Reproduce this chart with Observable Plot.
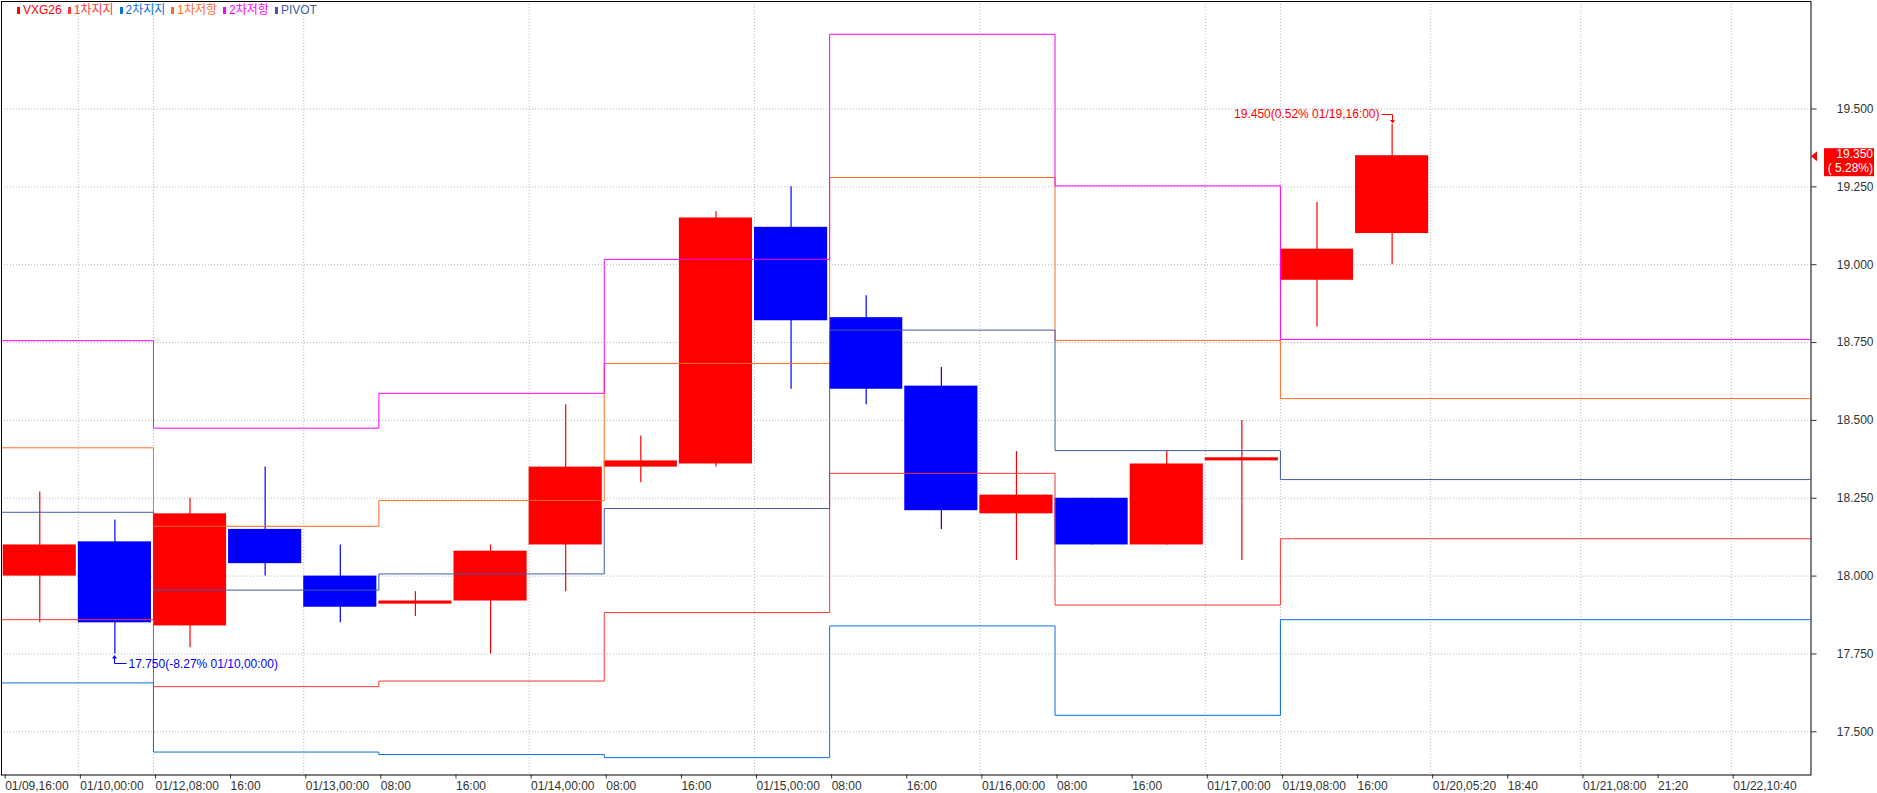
<!DOCTYPE html>
<html>
<head>
<meta charset="utf-8">
<script src="https://cdn.jsdelivr.net/npm/d3@7"></script>
<script src="https://cdn.jsdelivr.net/npm/@observablehq/plot@0.6"></script>
<style>
  html, body { margin: 0; padding: 0; background: #fff; }
  #wrap { position: relative; width: 1877px; height: 793px; overflow: hidden; }
  #legend { position: absolute; left: 17px; top: 3px; display: flex; gap: 6px; white-space: nowrap;
            font: 12px "Liberation Sans", "Noto Sans CJK KR", sans-serif; line-height: 14px; }
  #legend .item { display: flex; align-items: center; }
  #legend .mk { display: inline-block; width: 3px; height: 7px; margin-right: 3px; }
</style>
</head>
<body>
<div id="wrap"><div id="legend"></div></div>
<script>
// ---- data ----
const slotLabels = ["01/09,16:00","01/10,00:00","01/12,08:00","16:00","01/13,00:00","08:00","16:00",
  "01/14,00:00","08:00","16:00","01/15,00:00","08:00","16:00","01/16,00:00","08:00","16:00",
  "01/17,00:00","01/19,08:00","16:00","01/20,05:20","18:40","01/21,08:00","21:20","01/22,10:40"];

const open  = [18.00,18.11,17.84,18.15,18.00,17.91,17.92,18.10,18.35,18.36,19.12,18.83,18.61,18.20,18.25,18.10,18.37,18.95,19.10];
const high  = [18.27,18.18,18.25,18.35,18.10,17.95,18.10,18.55,18.45,19.17,19.25,18.90,18.67,18.40,18.25,18.40,18.50,19.20,19.45];
const low   = [17.85,17.75,17.77,18.00,17.85,17.87,17.75,17.95,18.30,18.35,18.60,18.55,18.15,18.05,18.10,18.10,18.05,18.80,19.00];
const close = [18.10,17.85,18.20,18.04,17.90,17.92,18.08,18.35,18.37,19.15,18.82,18.60,18.21,18.26,18.10,18.36,18.38,19.05,19.35];

// session starts (slot index of each 08:00 session; -1 = 01/09 08:00)
const sessionStart = [-1, 2, 5, 8, 11, 14, 17];
const resist2 = [18.756, 18.475, 18.587, 19.017, 19.74, 19.253, 18.76];
const resist1 = [18.412, 18.16, 18.243, 18.683, 19.28, 18.757, 18.57];
const pivot   = [18.205, 17.955, 18.007, 18.217, 18.79, 18.403, 18.31];
const support1= [17.86, 17.645, 17.663, 17.883, 18.33, 17.907, 18.12];
const support2= [17.657, 17.435, 17.427, 17.417, 17.84, 17.553, 17.86];

const yTicks = [17.5, 17.75, 18.0, 18.25, 18.5, 18.75, 19.0, 19.25, 19.5];

const hiNote = "19.450(0.52% 01/19,16:00)";
const loNote = "17.750(-8.27% 01/10,00:00)";
const lastPrice = "19.350";
const lastPct = "( 5.28%)";

const legendItems = [
  {name: "VXG26", color: "#ff0000"},
  {name: "1차지지", color: "#ff3535"},
  {name: "2차지지", color: "#0a6fe0"},
  {name: "1차저항", color: "#ff6a22"},
  {name: "2차저항", color: "#ff00ff"},
  {name: "PIVOT", color: "#3f5ca6"}
];

// ---- build ----
const UP = "#ff0000", DOWN = "#0000ff";
const candles = open.map((o, i) => ({i, o, h: high[i], l: low[i], c: close[i], up: close[i] >= o}));
const slotIdx = d3.range(slotLabels.length);
const dateIdx = slotIdx.filter(i => i > 0 && slotLabels[i].includes("/"));

function levelLine(vals) {
  const pts = sessionStart.map((s, k) => ({x: s, y: vals[k]}));
  pts.push({x: 30, y: vals[vals.length - 1]});
  return pts;
}
const levelSpecs = [
  {vals: support1, color: "#ff3535"},
  {vals: support2, color: "#0a6fe0"},
  {vals: resist1, color: "#ff6a22"},
  {vals: resist2, color: "#ff00ff"},
  {vals: pivot,   color: "#3f5ca6"}
];

const grid = {stroke: "#b8b8b8", strokeDasharray: "1,2", strokeWidth: 1};

const plot = Plot.plot({
  width: 1877, height: 793,
  marginLeft: 1, marginRight: 66.5, marginTop: 1, marginBottom: 18.5,
  style: {fontFamily: '"Liberation Sans","Noto Sans CJK KR",sans-serif', fontSize: "12px", background: "white", overflow: "visible"},
  x: {domain: [-0.0226, 24.062], axis: null},
  y: {domain: [17.3613, 19.8452], axis: null},
  marks: [
    Plot.ruleY(yTicks, grid),
    Plot.ruleX(dateIdx, grid),
    Plot.ruleX(candles.filter(d => d.up), {x: d => d.i + 0.5, dx: -1, y1: "l", y2: "h", stroke: UP, strokeWidth: 1.2}),
    Plot.ruleX(candles.filter(d => !d.up), {x: d => d.i + 0.5, dx: -1, y1: "l", y2: "h", stroke: DOWN, strokeWidth: 1.2}),
    Plot.rect(candles.filter(d => d.up), {x1: "i", x2: d => d.i + 1, y1: "o", y2: "c", insetRight: 2, fill: UP}),
    Plot.rect(candles.filter(d => !d.up), {x1: "i", x2: d => d.i + 1, y1: "o", y2: "c", insetRight: 2, fill: DOWN}),
    ...levelSpecs.map(s => Plot.line(levelLine(s.vals), {x: "x", y: "y", curve: "step-after", stroke: s.color, strokeWidth: 1, clip: true})),
    Plot.axisX({ticks: slotIdx, tickFormat: i => slotLabels[i], tickSize: 4, tickPadding: 2, textAnchor: "start", dx: 2, color: "#333"}),
    Plot.axisY({anchor: "right", ticks: yTicks, tickFormat: d3.format(".3f"), tickSize: 5, tickPadding: 57.5, textAnchor: "end", color: "#333"}),
    Plot.frame({stroke: "#000"})
  ]
});

document.getElementById("wrap").appendChild(plot);

// ---- annotations using the plot's scales ----
const sx = plot.scale("x").apply, sy = plot.scale("y").apply;
const xRight = plot.scale("x").range[1];
const svg = d3.select(plot);
const g = svg.append("g").attr("font-family", '"Liberation Sans","Noto Sans CJK KR",sans-serif').attr("font-size", 12).attr("text-anchor", "start");

// high
const hi = d3.maxIndex(high);
const hx = Math.round(sx(hi + 0.5) - 1) + 0.5, hy = sy(high[hi]);
g.append("path").attr("d", `M${hx - 11},${Math.round(hy - 10) + 0.5}H${hx}V${hy - 3}`).attr("stroke", UP).attr("fill", "none");
g.append("path").attr("d", `M${hx - 2.5},${hy - 4}L${hx + 2.5},${hy - 4}L${hx},${hy - 0.5}Z`).attr("fill", UP);
g.append("text").attr("x", hx - 13).attr("y", hy - 10).attr("dy", "0.35em").attr("text-anchor", "end").attr("fill", UP).text(hiNote);

// low
const lo = d3.minIndex(low);
const lx = Math.round(sx(lo + 0.5) - 1) + 0.5, ly = sy(low[lo]);
g.append("path").attr("d", `M${lx},${ly + 4}V${Math.round(ly + 10) + 0.5}H${lx + 12}`).attr("stroke", DOWN).attr("fill", "none");
g.append("path").attr("d", `M${lx - 2.5},${ly + 5}L${lx + 2.5},${ly + 5}L${lx},${ly + 1.5}Z`).attr("fill", DOWN);
g.append("text").attr("x", lx + 14).attr("y", ly + 10).attr("dy", "0.35em").attr("text-anchor", "start").attr("fill", DOWN).text(loNote);

// last price tag
const last = close.length - 1;
const py = sy(close[last]);
g.append("path").attr("d", `M${xRight + 0.5},${py + 1}L${xRight + 6.5},${py - 4}L${xRight + 6.5},${py + 6}Z`).attr("fill", UP);
g.append("rect").attr("x", xRight + 13.5).attr("y", py - 7).attr("width", 50).attr("height", 28).attr("fill", UP);
g.append("text").attr("x", xRight + 62.5).attr("y", py - 1).attr("dy", "0.35em").attr("text-anchor", "end").attr("fill", "#fff").text(lastPrice);
g.append("text").attr("x", xRight + 62.5).attr("y", py + 13).attr("dy", "0.35em").attr("text-anchor", "end").attr("fill", "#fff").text(lastPct);

// legend
const leg = d3.select("#legend");
legendItems.forEach(it => {
  const s = leg.append("span").attr("class", "item").style("color", it.color);
  s.append("span").attr("class", "mk").style("background", it.color);
  s.append("span").text(it.name);
});
</script>
</body>
</html>
